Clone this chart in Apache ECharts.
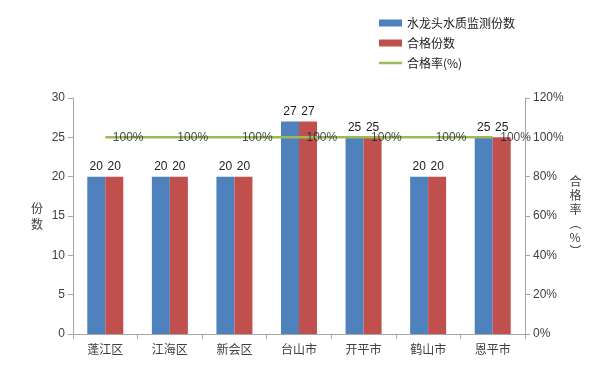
<!DOCTYPE html>
<html><head><meta charset="utf-8">
<script src="https://cdn.jsdelivr.net/npm/echarts@6/dist/echarts.min.js"></script>
<style>html,body{margin:0;padding:0;background:#fff}#c{width:600px;height:383px}</style>
</head><body><div id="c"></div>
<script>
const categories = ['蓬江区','江海区','新会区','台山市','开平市','鹤山市','恩平市'];
const tested = [20,20,20,27,25,20,25];
const qualified = [20,20,20,27,25,20,25];
const passRate = [100,100,100,100,100,100,100];
const leftTicks = {min:0, max:30, interval:5};
const rightTicks = {min:0, max:120, interval:20};

const font = '"Noto Sans CJK SC", "Liberation Sans", sans-serif';
const numFont = '"Liberation Sans", sans-serif';
const txt = '#404040';
const axisCol = '#a6a6a6';
const chart = echarts.init(document.getElementById('c'));
chart.setOption({
  animation:false,
  textStyle:{fontFamily:font},
  legend:{
    orient:'vertical', left:374, top:12, itemWidth:23, itemHeight:7, itemGap:8,
    textStyle:{fontSize:12, color:'#202020', fontFamily:font},
    data:[
      {name:'水龙头水质监测份数', icon:'rect'},
      {name:'合格份数', icon:'rect'},
      {name:'合格率(%)', icon:'path://M0,0H23V2.5H0Z', itemStyle:{color:'#9BBB59'}}
    ]
  },
  grid:{left:73, right:75, top:98, bottom:49},
  xAxis:{
    type:'category', data:categories,
    axisLine:{lineStyle:{color:axisCol}},
    axisTick:{show:true, length:5, lineStyle:{color:axisCol}},
    axisLabel:{color:txt, fontSize:12, margin:9, fontFamily:font}
  },
  yAxis:[{
    type:'value', min:leftTicks.min, max:leftTicks.max, interval:leftTicks.interval,
    name:'份\n数', nameLocation:'middle', nameGap:30, nameRotate:0,
    nameTextStyle:{color:txt, fontSize:12, lineHeight:16, fontFamily:font},
    axisLine:{show:true, lineStyle:{color:axisCol}},
    axisTick:{show:true, length:5, lineStyle:{color:axisCol}},
    splitLine:{show:false},
    axisLabel:{color:txt, fontSize:12, margin:8, fontFamily:numFont}
  },{
    type:'value', min:rightTicks.min, max:rightTicks.max, interval:rightTicks.interval,
    name:'合\n格\n率\n︵\n%\n︶', nameLocation:'middle', nameGap:41, nameRotate:0,
    nameTextStyle:{color:txt, fontSize:12, lineHeight:14, fontFamily:font},
    axisLine:{show:true, lineStyle:{color:axisCol}},
    axisTick:{show:true, length:5, lineStyle:{color:axisCol}},
    splitLine:{show:false},
    axisLabel:{color:txt, fontSize:12, margin:8, formatter:'{value}%', fontFamily:numFont}
  }],
  series:[{
    name:'水龙头水质监测份数', type:'bar', data:tested, barWidth:18, barGap:'0%',
    itemStyle:{color:'#4F81BD'},
    label:{show:true, position:'top', distance:4, color:'#202020', fontSize:12, fontFamily:numFont}
  },{
    name:'合格份数', type:'bar', data:qualified, barWidth:18,
    itemStyle:{color:'#C0504D'},
    label:{show:true, position:'top', distance:4, color:'#202020', fontSize:12, fontFamily:numFont}
  },{
    name:'合格率(%)', type:'line', yAxisIndex:1, data:passRate, z:3,
    symbol:'none', lineStyle:{color:'#9BBB59', width:2.5}, itemStyle:{color:'#9BBB59'}
  },{
    name:'合格率标签', type:'scatter', yAxisIndex:1, data:passRate, z:4,
    symbolSize:1, itemStyle:{color:'rgba(0,0,0,0)'}, silent:true,
    label:{show:true, position:'right', distance:7, formatter:'{c}%', color:'#202020', fontSize:12, fontFamily:numFont}
  }]
});
</script></body></html>
